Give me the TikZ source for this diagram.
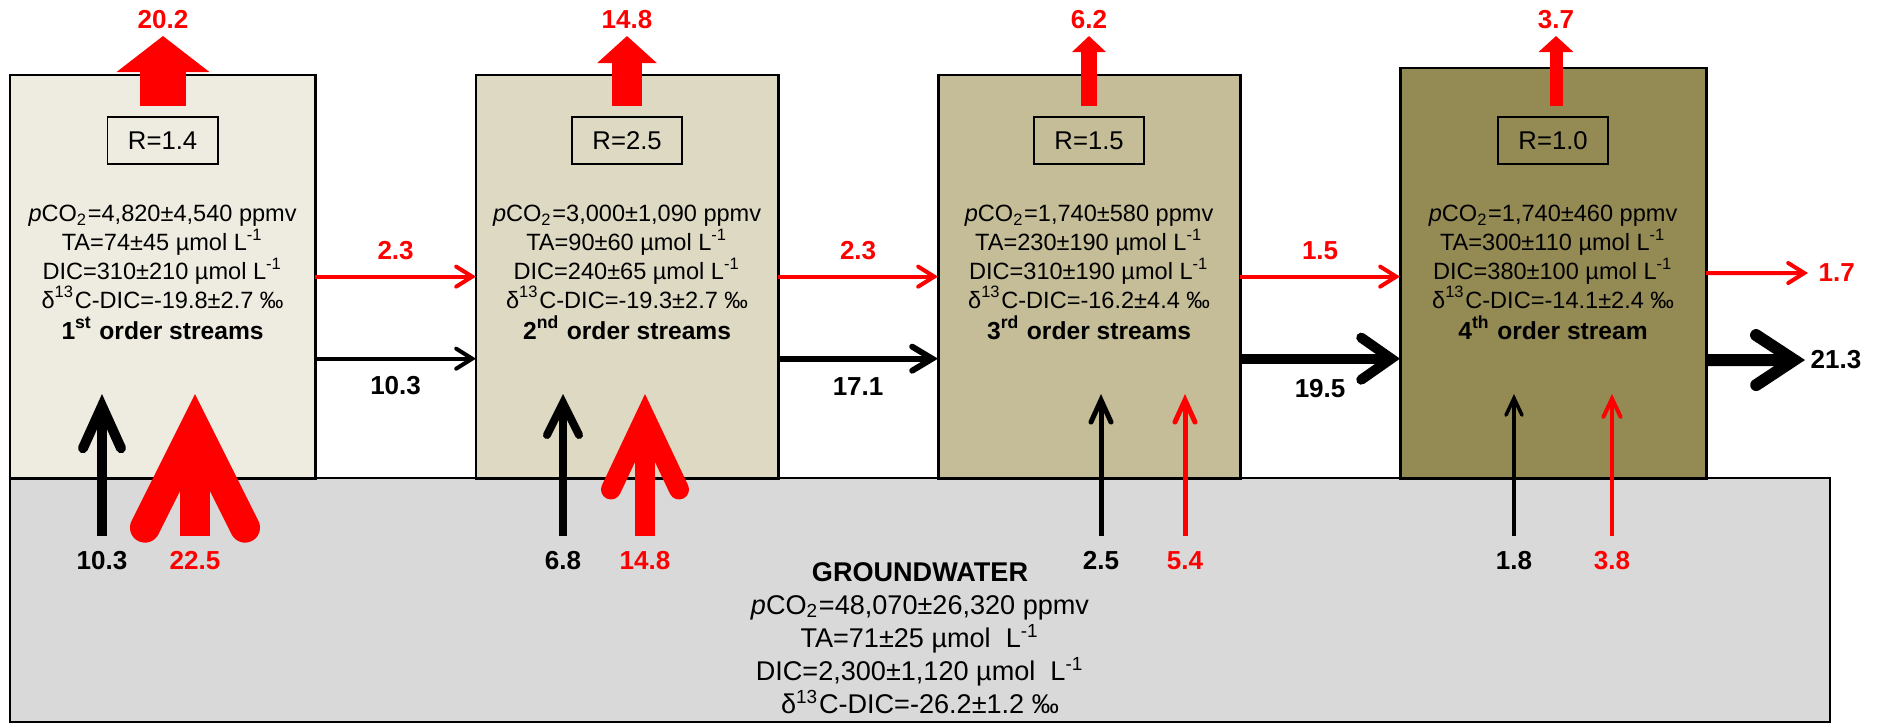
\documentclass[tikz,border=0pt]{standalone}
\usepackage{fontspec}
\setmainfont{Liberation Sans}
\usetikzlibrary{arrows.meta,positioning}
\definecolor{tanA}{HTML}{EEECE1}
\definecolor{tanB}{HTML}{DDD9C3}
\definecolor{tanC}{HTML}{C4BD97}
\definecolor{tanD}{HTML}{948A54}
\definecolor{gwgray}{HTML}{D9D9D9}
\tikzset{
	reach/.style={draw=black, line width=0.85pt, minimum width=3.02cm, minimum height=4.03cm, anchor=north west, inner sep=0pt, outer sep=0pt},
	rlabel/.style={draw, line width=0.5pt, minimum width=1.1cm, minimum height=0.47cm, inner sep=0pt, font=\fontsize{7.3}{8}\selectfont},
	chem/.style={align=center, inner sep=0pt, font=\fontsize{6.7}{8.2}\selectfont},
	flux/.style={inner sep=0pt, font=\bfseries\fontsize{7.4}{8}\selectfont},
	co2/.style={flux, text=red},
}
\begin{document}
\begin{tikzpicture}[x=0.01cm,y=-0.01cm]
	\useasboundingbox (0,0) rectangle (1881,727);
	%GROUNDWATER
	\node[draw, line width=0.7pt, fill=gwgray, anchor=north west, minimum width=18.19cm, minimum height=2.44cm, inner sep=0pt, outer sep=0pt] (gw) at (10,478) {};
	\node[chem, font=\fontsize{7.7}{9.4}\selectfont] (gwdata) at (920,638) {\textbf{GROUNDWATER}\\\textit{p}CO\textsubscript{2}=48,070±26,320 ppmv\\TA=71±25 µmol~ L\textsuperscript{-1}\\DIC=2,300±1,120 µmol~ L\textsuperscript{-1}\\δ\textsuperscript{13}C-DIC=-26.2±1.2 ‰};
	%STREAMS
	\node[reach, fill=tanA, minimum width=3.05cm] (box1) at (10,75) {};
	\node[reach, fill=tanB] (box2) at (476,75) {};
	\node[reach, fill=tanC] (box3) at (938,75) {};
	\node[reach, fill=tanD, minimum width=3.06cm, minimum height=4.10cm] (box4) at (1400,68) {};
	\node[rlabel, below=0.41cm of box1.north] (r1) {R=1.4};
	\node[rlabel, below=0.41cm of box2.north] (r2) {R=2.5};
	\node[rlabel, below=0.41cm of box3.north] (r3) {R=1.5};
	\node[rlabel, below=0.48cm of box4.north] (r4) {R=1.0};
	\node[chem, below=0.40cm of r1] (data1) {\textit{p}CO\textsubscript{2}=4,820±4,540 ppmv\\TA=74±45 µmol L\textsuperscript{-1}\\DIC=310±210 µmol L\textsuperscript{-1}\\δ\textsuperscript{13}C-DIC=-19.8±2.7 ‰\\[0.5pt]\textbf{\fontsize{7}{8}\selectfont 1\textsuperscript{st} order streams}};
	\node[chem, below=0.40cm of r2] (data2) {\textit{p}CO\textsubscript{2}=3,000±1,090 ppmv\\TA=90±60 µmol L\textsuperscript{-1}\\DIC=240±65 µmol L\textsuperscript{-1}\\δ\textsuperscript{13}C-DIC=-19.3±2.7 ‰\\[0.5pt]\textbf{\fontsize{7}{8}\selectfont 2\textsuperscript{nd} order streams}};
	\node[chem, below=0.40cm of r3] (data3) {\textit{p}CO\textsubscript{2}=1,740±580 ppmv\\TA=230±190 µmol L\textsuperscript{-1}\\DIC=310±190 µmol L\textsuperscript{-1}\\δ\textsuperscript{13}C-DIC=-16.2±4.4 ‰\\[0.5pt]\textbf{\fontsize{7}{8}\selectfont 3\textsuperscript{rd} order streams}};
	\node[chem, below=0.40cm of r4] (data4) {\textit{p}CO\textsubscript{2}=1,740±460 ppmv\\TA=300±110 µmol L\textsuperscript{-1}\\DIC=380±100 µmol L\textsuperscript{-1}\\δ\textsuperscript{13}C-DIC=-14.1±2.4 ‰\\[0.5pt]\textbf{\fontsize{7}{8}\selectfont 4\textsuperscript{th} order stream}};
	%EVASION
	\node[co2] (v1) at (163,20) {20.2};
	\node[co2] (v2) at (627,20) {14.8};
	\node[co2] (v3) at (1089,20) {6.2};
	\node[co2] (v4) at (1556,20) {3.7};
	\coordinate (e1) at (163,106); \coordinate (e1t) at (163,36);
	\coordinate (e2) at (627,106); \coordinate (e2t) at (627,36);
	\coordinate (e3) at (1089,106); \coordinate (e3t) at (1089,36);
	\coordinate (e4) at (1556,106); \coordinate (e4t) at (1556,36);
	\draw[red, line width=0.45cm, -{Triangle[width=0.91cm,length=0.36cm]}] (e1) -- (e1t);
	\draw[red, line width=0.30cm, -{Triangle[width=0.58cm,length=0.27cm]}] (e2) -- (e2t);
	\draw[red, line width=0.16cm, -{Triangle[width=0.33cm,length=0.16cm]}] (e3) -- (e3t);
	\draw[red, line width=0.13cm, -{Triangle[width=0.34cm,length=0.16cm]}] (e4) -- (e4t);
	%DOWNSTREAM
	\draw[red, line width=1.14pt, -{Straight Barb[length=0.16cm,width=0.2cm,line cap=round]}] (box1.east) -- (box2.west) node[co2, midway, above=0.15cm] (c1) {2.3};
	\draw[red, line width=1.14pt, -{Straight Barb[length=0.16cm,width=0.2cm,line cap=round]}] (box2.east) -- (box3.west) node[co2, midway, above=0.15cm] (c2) {2.3};
	\draw[red, line width=1.14pt, -{Straight Barb[length=0.16cm,width=0.2cm,line cap=round]}] (box3.east) -- (box3.east -| box4.west) node[co2, midway, above=0.15cm] (c3) {1.5};
	\coordinate (o1) at (1808,273);
	\node[co2, right=0.1cm of o1] (c4) {1.7};
	\draw[red, line width=1.14pt, -{Straight Barb[length=0.16cm,width=0.2cm,line cap=round]}] (box4.east) -- (o1);
	\draw[line width=1.14pt, -{Straight Barb[length=0.16cm,width=0.2cm,line cap=round]}] ([yshift=-0.82cm]box1.east) -- ([yshift=-0.82cm]box2.west) node[flux, midway, below=0.16cm] (d1) {10.3};
	\draw[line width=1.7pt, -{Straight Barb[length=0.2cm,width=0.24cm,line cap=round]}] ([yshift=-0.82cm]box2.east) -- ([yshift=-0.82cm]box3.west) node[flux, midway, below=0.16cm] (d2) {17.1};
	\draw[line width=2.85pt, -{Straight Barb[length=0.3cm,width=0.42cm,line cap=round]}] ([yshift=-0.82cm]box3.east) -- ([yshift=-0.82cm]box3.east -| box4.west) node[flux, midway, below=0.16cm] (d3) {19.5};
	\coordinate (o2) at (1805,360);
	\node[flux, right=0.05cm of o2] (d4) {21.3};
	\draw[line width=3.4pt, -{Straight Barb[length=0.38cm,width=0.5cm,line cap=round]}] ([yshift=-0.87cm]box4.east) -- (o2);
	%GROUNDWATER INPUT
	\coordinate (g1) at (102,536); \coordinate (g1t) at (102,394);
	\coordinate (h1) at (195,536); \coordinate (h1t) at (195,394);
	\coordinate (g2) at (563,536); \coordinate (g2t) at (563,394);
	\coordinate (h2) at (645,536); \coordinate (h2t) at (645,394);
	\coordinate (g3) at (1101,536); \coordinate (g3t) at (1101,394);
	\coordinate (h3) at (1185,536); \coordinate (h3t) at (1185,394);
	\coordinate (g4) at (1514,536); \coordinate (g4t) at (1514,394);
	\coordinate (h4) at (1612,536); \coordinate (h4t) at (1612,394);
	\draw[line width=2.85pt, -{Straight Barb[length=0.42cm,width=0.38cm,line cap=round]}] (g1) -- (g1t);
	\draw[red, line width=0.30cm, -{Straight Barb[length=1.0cm,width=1.0cm,line cap=round]}] (h1) -- (h1t);
	\draw[line width=2.28pt, -{Straight Barb[length=0.32cm,width=0.32cm,line cap=round]}] (g2) -- (g2t);
	\draw[red, line width=0.20cm, -{Straight Barb[length=0.72cm,width=0.68cm,line cap=round]}] (h2) -- (h2t);
	\draw[line width=1.42pt, -{Straight Barb[length=0.22cm,width=0.2cm,line cap=round]}] (g3) -- (g3t);
	\draw[red, line width=1.42pt, -{Straight Barb[length=0.22cm,width=0.2cm,line cap=round]}] (h3) -- (h3t);
	\draw[line width=1pt, -{Straight Barb[length=0.17cm,width=0.16cm,line cap=round]}] (g4) -- (g4t);
	\draw[red, line width=1.14pt, -{Straight Barb[length=0.18cm,width=0.17cm,line cap=round]}] (h4) -- (h4t);
	\node[flux, below=0.15cm of g1] (q1) {10.3};
	\node[co2, below=0.15cm of h1] (p1) {22.5};
	\node[flux, below=0.15cm of g2] (q2) {6.8};
	\node[co2, below=0.15cm of h2] (p2) {14.8};
	\node[flux, below=0.15cm of g3] (q3) {2.5};
	\node[co2, below=0.15cm of h3] (p3) {5.4};
	\node[flux, below=0.15cm of g4] (q4) {1.8};
	\node[co2, below=0.15cm of h4] (p4) {3.8};
\end{tikzpicture}
\end{document}
